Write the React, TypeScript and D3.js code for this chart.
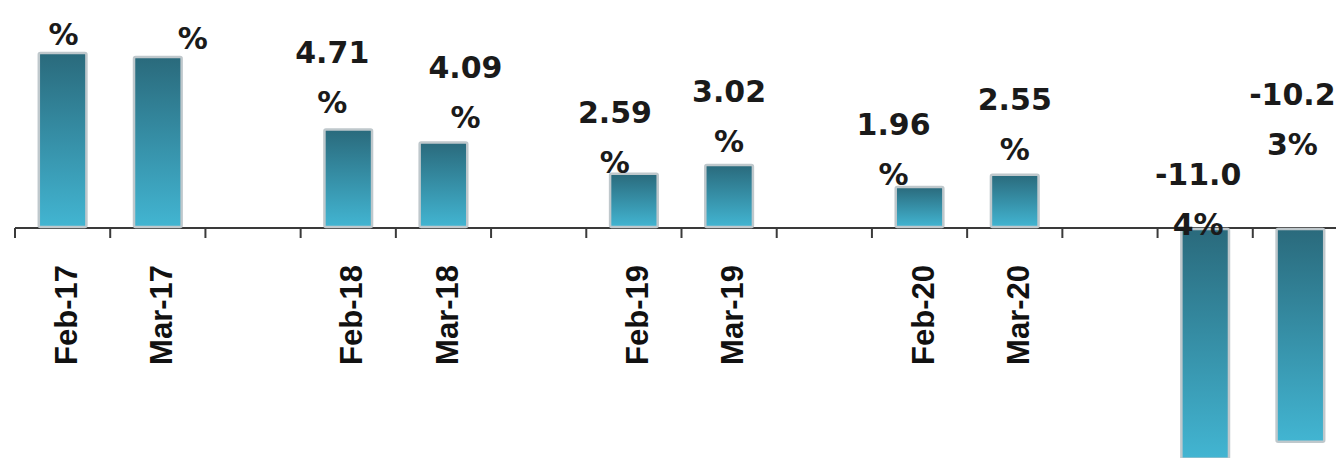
import React from "react";
import * as d3 from "d3";

// ---- data ----
const categories: string[] = ["Feb-17", "Mar-17", "", "Feb-18", "Mar-18", "", "Feb-19", "Mar-19", "", "Feb-20", "Mar-20", "", "Feb-21", "Mar-21"];
const values: (number | null)[] = [8.37, 8.18, null, 4.71, 4.09, null, 2.59, 3.02, null, 1.96, 2.55, null, -11.04, -10.23];

// ---- layout (manually placed data labels: [dx, dy] from bar end) ----
const labelNudges: [number, number][] = [
  [1, -58], [35, -58], [0, 0], [-16, -67], [22, -65], [0, 0], [-19, -51], [0, -63], [0, 0], [-26, -52], [0, -65], [0, 0], [-7, -43], [-8, -123],
];

const W = 1336;
const H = 458;
const AXIS_Y = 228;
const PX_PER_UNIT = 20.9;

function formatLabel(v: number): [string, string] {
  const s = v.toFixed(2) + "%";
  const cut = Math.min(5, s.length - 1);
  return [s.slice(0, cut), s.slice(cut)];
}

export default function App() {
  const idx = categories.map((_, i) => i);
  const x = d3.scaleBand<number>().domain(idx).range([15, 1348]).paddingInner(0.5).paddingOuter(0.25);
  const y = d3.scaleLinear().domain([-12, 10]).range([AXIS_Y + 12 * PX_PER_UNIT, AXIS_Y - 10 * PX_PER_UNIT]);
  const step = x.step();
  const bw = x.bandwidth();
  const gap = (step - bw) / 2;
  const ticks = idx.map((i) => (x(i) as number) - gap).concat([(x(idx.length - 1) as number) + bw + gap]);

  return (
    <svg width={W} height={H} style={{ position: "absolute", left: 0, top: 0, background: "#fff" }}>
      <defs>
        <linearGradient id="barGrad" x1="0" y1="0" x2="0" y2="1">
          <stop offset="0%" stopColor="#2a6a7c" />
          <stop offset="100%" stopColor="#42b5d2" />
        </linearGradient>
      </defs>
      {/* category labels */}
      {categories.map((c, i) => {
        const cx = (x(i) as number) + bw / 2 + 3;
        return (
          <text
            key={"c" + i}
            transform={`translate(${cx},265) rotate(-90)`}
            textAnchor="end"
            dy="0.36em"
            fontFamily="'Liberation Sans', Arial, sans-serif"
            fontWeight="bold"
            fontSize={31}
            fill="#111"
          >
            {c}
          </text>
        );
      })}
      {/* axis */}
      <line x1={ticks[0]} x2={W} y1={y(0)} y2={y(0)} stroke="#3a3a3a" strokeWidth={2} />
      {ticks.map((t, i) => (
        <line key={"t" + i} x1={t} x2={t} y1={y(0)} y2={y(0) + 10} stroke="#3a3a3a" strokeWidth={2} />
      ))}
      {/* bars */}
      {values.map((v, i) =>
        v === null ? null : (
          <rect
            key={"b" + i}
            x={x(i) as number}
            y={v >= 0 ? y(v) : y(0) + 1}
            width={bw}
            height={Math.abs(y(v) - y(0)) - 1}
            fill="url(#barGrad)"
            stroke="#bfc8cc"
            strokeWidth={2.5}
            rx={1.5}
          />
        )
      )}
      {/* data labels */}
      {values.map((v, i) => {
        if (v === null) return null;
        const [l1, l2] = formatLabel(v);
        const cx = (x(i) as number) + bw / 2 + labelNudges[i][0];
        const by = y(Math.max(v, 0)) + labelNudges[i][1];
        return (
          <text
            key={"l" + i}
            textAnchor="middle"
            fontFamily="'DejaVu Sans', sans-serif"
            fontWeight="bold"
            fontSize={30}
            fill="#1a1a1a"
          >
            <tspan x={cx} y={by}>{l1}</tspan>
            <tspan x={cx} y={by + 50}>{l2}</tspan>
          </text>
        );
      })}
    </svg>
  );
}
